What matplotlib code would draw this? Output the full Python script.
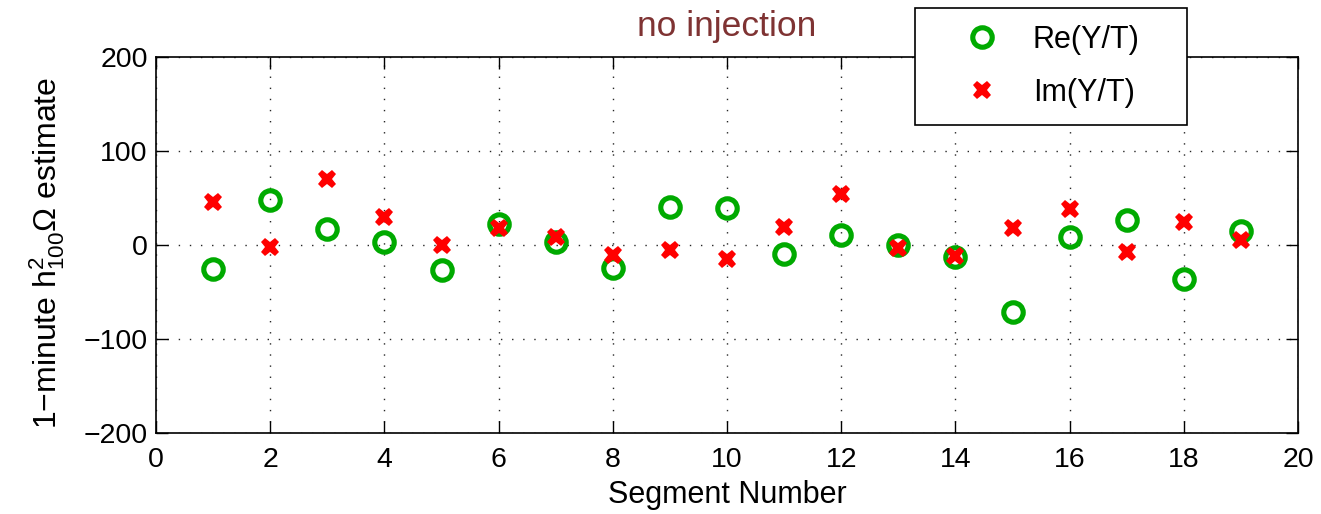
import numpy as np
import matplotlib
matplotlib.use('Agg')
import matplotlib.pyplot as plt

segments = np.arange(1, 20)
re_vals = [-25, 48, 17, 3, -27, 22, 3, -24, 40, 39, -10, 11, 0, -13, -71, 9, 27, -36, 15]
im_vals = [46, -2, 70, 30, 0, 18, 9, -11, -5, -15, 19, 54, -3, -12, 18, 38, -7, 24, 5]

plt.rcParams['font.family'] = ['Liberation Sans', 'DejaVu Sans']
plt.rcParams['mathtext.fontset'] = 'custom'
plt.rcParams['mathtext.rm'] = 'Liberation Sans'
plt.rcParams['mathtext.it'] = 'Liberation Sans'

W, H = 1321, 514
fig = plt.figure(figsize=(W / 100, H / 100), dpi=100)
ax = fig.add_axes([156 / W, 1 - 433 / H, (1298 - 156) / W, (433 - 57) / H])

ax.plot(segments, re_vals, 'o', ls='none', mfc='none', mec='#00AA00', ms=14, mew=3.7,
        label='Re(Y/T)')
ax.plot(segments, im_vals, 'X', ls='none', color='red', mec='red', ms=13, mew=0,
        label='Im(Y/T)')

ax.set_xlim(0, 20)
ax.set_ylim(-200, 200)
ax.set_xticks(np.arange(0, 21, 2))
ax.set_yticks([-200, -100, 0, 100, 200])
ax.set_yticklabels(['\u2212200', '\u2212100', '0', '100', '200'])
ax.grid(True, color='0.15', linestyle=(0, (1, 7)), linewidth=1)
ax.tick_params(direction='in', length=8.5, width=1, labelsize=20.5, top=True, right=True)
ax.tick_params(axis='x', pad=10)
ax.tick_params(axis='y', pad=6)
for s in ax.spines.values():
    s.set_linewidth(1.2)

ax.set_xlabel('Segment Number', fontsize=22, labelpad=5)
ax.set_ylabel('1\u2212minute h$^2_{100}\\Omega$ estimate', fontsize=23)
ax.yaxis.set_label_coords(-0.078, 0.479)
ax.set_title('no injection', fontsize=25.5, color='#7F3333', pad=15)

leg = fig.legend(loc='upper left', bbox_to_anchor=(915 / W, 1 - 8 / H, 272 / W, 0),
                 mode='expand', borderaxespad=0, fontsize=22, fancybox=False,
                 edgecolor='black', framealpha=1, borderpad=0.55, handlelength=3.3,
                 handletextpad=0.0, labelspacing=0.75)
leg.get_frame().set_linewidth(1.2)

fig.savefig('out.png', dpi=100)
